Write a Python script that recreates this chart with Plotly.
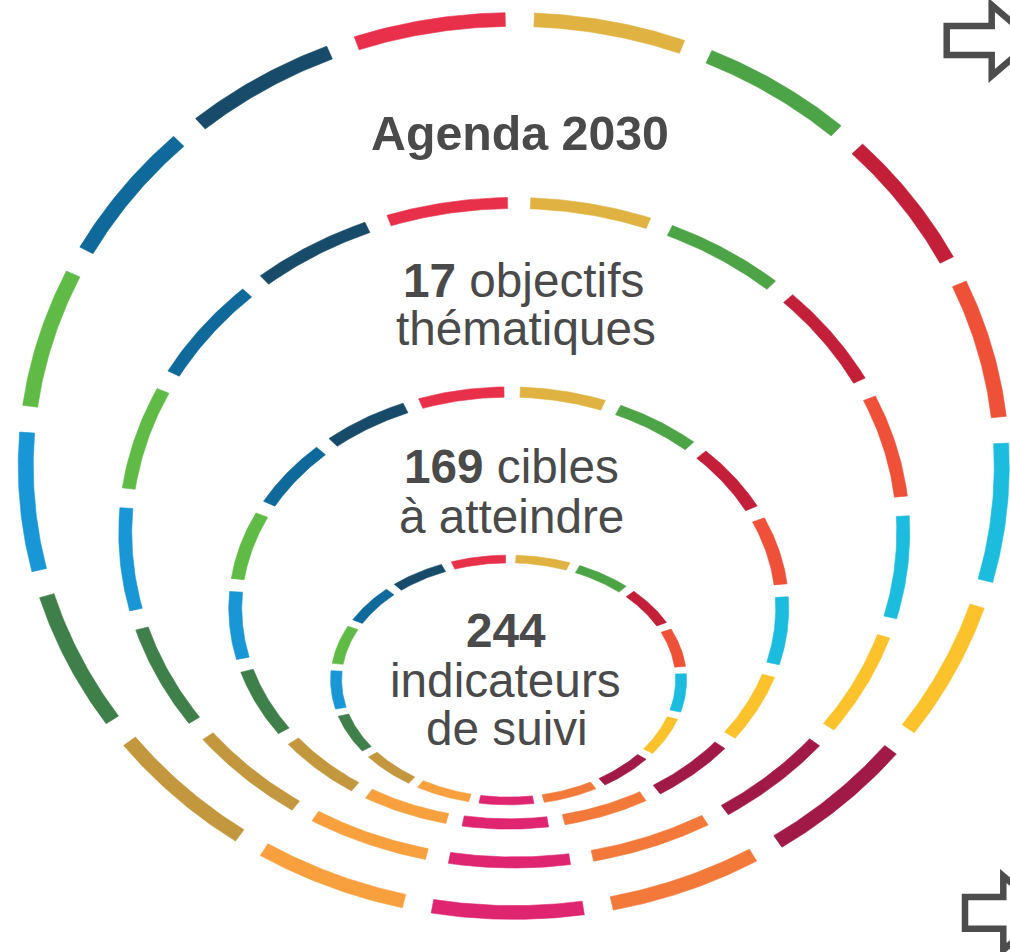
import numpy as np
import plotly.graph_objects as go

# ---------------- data ----------------
goal_numbers = [1, 2, 3, 4, 5, 6, 7, 8, 9, 10, 11, 12, 13, 14, 15, 16, 17]
goal_colors = [
    "#E8304A", "#E0B242", "#4DA446", "#C31F38", "#EE5038", "#1CBCDF",
    "#FBC22C", "#A11A47", "#F3793A", "#DF2470", "#F9A03E", "#C3973E",
    "#3F7F4A", "#1896D5", "#60BB46", "#0F699B", "#184B69",
]
level_names = ["Agenda 2030", "objectifs", "cibles", "indicateurs"]
level_counts = [2030, 17, 169, 244]
level_lines = [
    ["<b>Agenda 2030</b>"],
    ["<b>17</b> objectifs", "thématiques"],
    ["<b>169</b> cibles", "à atteindre"],
    ["<b>244</b>", "indicateurs", "de suivi"],
]

# ---------------- layout / geometry ----------------
W, H = 1010, 952
RINGS = [
    dict(cx=513.75, cy=466.0, rx=488.0, ry=446.5, w=15),
    dict(cx=514.25, cy=532.75, rx=389.0, ry=329.75, w=13),
    dict(cx=508.75, cy=608.0, rx=273.5, ry=216.0, w=13),
    dict(cx=508.6, cy=680.0, rx=172.5, ry=121.0, w=11),
]
ANGLE_OFFSET = 0.7   # degrees, clockwise from top
GAP = 3.4            # degrees
TEXT_POS = [
    [(519.5, 132.7)],
    [(523.5, 280.7), (525.5, 328.7)],
    [(511.0, 466.7), (511.0, 516.7)],
    [(505.5, 630.7), (505.5, 680.7), (506.5, 728.7)],
]
TEXT_SIZES = [[48.3], [47.7, 47.7], [47.7, 47.7], [47.7, 47.7, 47.7]]
TEXT_COLOR = "#4a4a4a"
FONT = "Liberation Sans, Arial, sans-serif"

fig = go.Figure()
n = len(goal_numbers)
step = 360.0 / n
for ring in RINGS:
    cx, cy, rx, ry, w = ring["cx"], ring["cy"], ring["rx"], ring["ry"], ring["w"]
    k = ry / rx
    for g, col in zip(goal_numbers, goal_colors):
        i = (g - 2) % n
        t0 = np.radians(ANGLE_OFFSET + i * step + GAP / 2)
        t1 = np.radians(ANGLE_OFFSET + (i + 1) * step - GAP / 2)
        t = np.linspace(t0, t1, 40)
        ro, ri = rx + w / 2, rx - w / 2
        xo = cx + ro * np.sin(t)
        yo = cy - ro * k * np.cos(t)
        xi = cx + ri * np.sin(t[::-1])
        yi = cy - ri * k * np.cos(t[::-1])
        xs = np.concatenate([xo, xi, xo[:1]])
        ys = np.concatenate([yo, yi, yo[:1]])
        fig.add_trace(go.Scatter(
            x=xs, y=ys, mode="lines", fill="toself", fillcolor=col,
            line=dict(width=0.6, color=col), hoverinfo="skip", showlegend=False,
        ))

annotations = []
for lines, poss, sizes in zip(level_lines, TEXT_POS, TEXT_SIZES):
    for txt, (x, y), fs in zip(lines, poss, sizes):
        annotations.append(dict(
            x=x, y=y, xref="x", yref="y", text=txt, showarrow=False,
            xanchor="center", yanchor="middle",
            font=dict(family=FONT, size=fs, color=TEXT_COLOR),
        ))

# hollow block arrows at right edge
def arrow_path(x0, ys_top, ys_bot, xb, yh_top, yh_bot, xtip):
    ym = (ys_top + ys_bot) / 2
    return (f"M {x0},{ys_top} L {xb},{ys_top} L {xb},{yh_top} L {xtip},{ym} "
            f"L {xb},{yh_bot} L {xb},{ys_bot} L {x0},{ys_bot} Z")

shapes = [
    dict(type="path", xref="x", yref="y",
         path=arrow_path(946.7, 26, 55, 991.7, 5, 76, 1033),
         line=dict(color="#4d4d4d", width=6.5), fillcolor="rgba(0,0,0,0)"),
    dict(type="path", xref="x", yref="y",
         path=arrow_path(965, 897, 928.7, 1003.3, 876, 950, 1047),
         line=dict(color="#4d4d4d", width=6.5), fillcolor="rgba(0,0,0,0)"),
]

fig.update_layout(
    width=W, height=H, margin=dict(l=0, r=0, t=0, b=0),
    paper_bgcolor="white", plot_bgcolor="white", showlegend=False,
    xaxis=dict(range=[0, W], visible=False, fixedrange=True),
    yaxis=dict(range=[H, 0], visible=False, fixedrange=True),
    annotations=annotations, shapes=shapes,
)
fig.write_html(
    "out.html",
    config={"displayModeBar": False},
    post_script="document.body.style.margin='0';document.body.style.padding='0';"
                "document.body.style.overflow='hidden';"
                "document.documentElement.style.overflow='hidden';",
)
